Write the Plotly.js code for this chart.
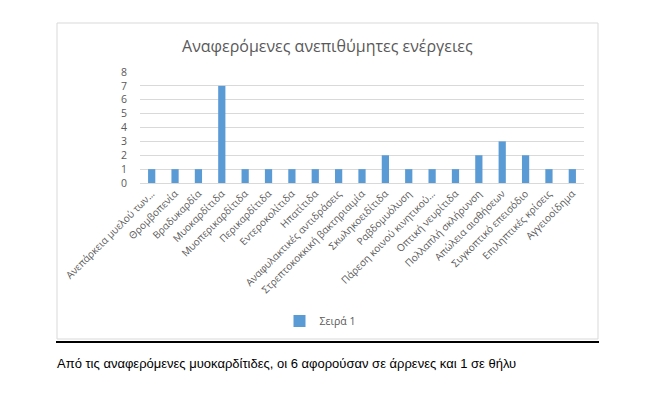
<!DOCTYPE html>
<html>
<head>
<meta charset="utf-8">
<script src="https://cdn.plot.ly/plotly-3.0.1.min.js"></script>
<style>html,body{margin:0;padding:0;background:#fff;}#chart{width:660px;height:406px;}</style>
</head>
<body>
<div id="chart"></div>
<script>
const categories = [
  "Ανεπάρκεια μυελού των...",
  "Θρομβοπενία",
  "Βραδυκαρδία",
  "Μυοκαρδίτιδα",
  "Μυοπερικαρδίτιδα",
  "Περικαρδίτιδα",
  "Εντεροκολίτιδα",
  "Ηπατίτιδα",
  "Αναφυλακτικές αντιδράσεις",
  "Στρεπτοκοκκική βακτηριαιμία",
  "Σκωληκοειδίτιδα",
  "Ραβδομυόλυση",
  "Πάρεση κοινού κινητικού...",
  "Οπτική νευρίτιδα",
  "Πολλαπλή σκλήρυνση",
  "Απώλεια αισθήσεων",
  "Συγκοπτικό επεισόδιο",
  "Επιληπτικές κρίσεις",
  "Αγγειοοίδημα"
];
const values = [1,1,1,7,1,1,1,1,1,1,2,1,1,1,2,3,2,1,1];
const seriesName = "Σειρά 1";
const chartTitle = "Αναφερόμενες ανεπιθύμητες ενέργειες";
const caption = "Από τις αναφερόμενες μυοκαρδίτιδες, οι 6 αφορούσαν σε άρρενες και 1 σε θήλυ";
const yTicks = [0,1,2,3,4,5,6,7,8];

const L = 140, R = 584, T = 72, B = 183;
const W = R - L, H = B - T;
const px = x => (x - L) / W;
const py = y => (B - y) / (H);

const trace = {
  type: 'bar', x: categories, y: values, name: seriesName,
  marker: {color: '#5B9BD5'}, showlegend: true
};

const layout = {
  width: 660, height: 406,
  margin: {l: L, r: 660 - R, t: T, b: 406 - B, pad: 0},
  paper_bgcolor: '#fff', plot_bgcolor: '#fff',
  bargap: 0.69,
  font: {family: 'Open Sans, sans-serif', color: '#595959'},
  title: {text: chartTitle, xref: 'container', yref: 'container', x: 0.496, xanchor: 'center',
          y: 1 - 46/406, yanchor: 'middle', font: {size: 16, color: '#595959', family: 'Open Sans, sans-serif'}},
  xaxis: {type: 'category', tickangle: -45, tickfont: {size: 10, color: '#595959'},
          showgrid: false, showline: true, linecolor: '#D9D9D9', linewidth: 1, ticks: '', automargin: false, fixedrange: true},
  yaxis: {range: [0, 8], tickvals: yTicks, ticktext: yTicks.map(String), tickfont: {size: 10.5, color: '#595959'},
          showgrid: true, gridcolor: '#D9D9D9', gridwidth: 1, zeroline: false, showline: false, ticks: '',
          ticklabelstandoff: 12, automargin: false, fixedrange: true},
  legend: {orientation: 'h', x: px(320), xanchor: 'center', y: py(321), yanchor: 'middle',
           font: {size: 10.5, color: '#595959'}, itemwidth: 30, bgcolor: 'rgba(0,0,0,0)'},
  shapes: [
    {type: 'rect', xref: 'paper', yref: 'paper', x0: px(57), x1: px(598), y0: py(339), y1: py(23),
     line: {color: '#D9D9D9', width: 1}, fillcolor: 'rgba(0,0,0,0)', layer: 'below'},
    {type: 'line', xref: 'paper', yref: 'paper', x0: px(56), x1: px(599), y0: py(342), y1: py(342),
     line: {color: '#000', width: 2}}
  ],
  annotations: [
    {text: caption, xref: 'paper', yref: 'paper', x: px(55), xanchor: 'left', y: py(363), yanchor: 'middle',
     showarrow: false, font: {family: 'Liberation Sans, Arial, sans-serif', size: 13, color: '#000'}}
  ]
};

Plotly.newPlot('chart', [trace], layout, {displayModeBar: false, staticPlot: true});
</script>
</body>
</html>
